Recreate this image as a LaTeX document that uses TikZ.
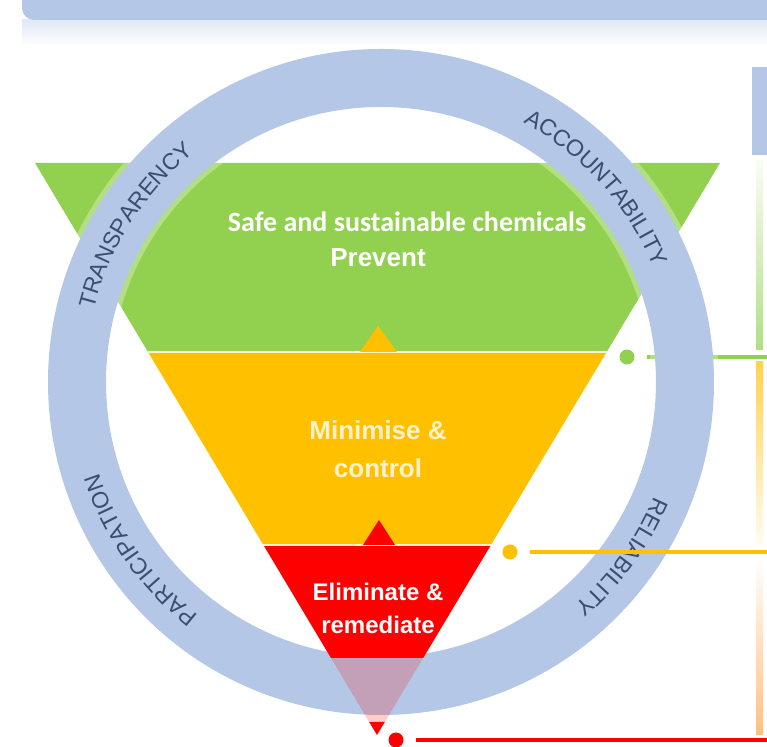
\documentclass[tikz,border=0pt]{standalone}
\usepackage{fontspec}
\setmainfont{Liberation Sans}
\newfontfamily\calibrifont{Carlito}
\usetikzlibrary{calc, decorations.text, positioning}

\definecolor{ringblue}{HTML}{B4C7E7}
\definecolor{ringtext}{HTML}{3A4D6E}
\definecolor{levelgreen}{HTML}{92D050}
\definecolor{levelyellow}{HTML}{FFC000}
\definecolor{levelred}{HTML}{FF0000}
\definecolor{palecream}{HTML}{FFF2CC}

\begin{document}
\begin{tikzpicture}[
    x=0.5pt, y=0.5pt,
    sepline/.style={draw=palecream, line width=1pt},
    levellabel/.style={font=\fontsize{13}{19}\selectfont\bfseries, text=white, align=center},
    marker/.style={circle, inner sep=0pt, minimum size=7.5pt},
    tieline/.style={line width=1.6pt, shorten <=6pt},
    ringlabel/.style={decorate, decoration={text along path, text align=center,
        text color=ringtext, text={|\fontsize{11.5}{13}\selectfont|#1}}}
]
\useasboundingbox (0,0) rectangle (767,747);

% Top bar
\shade[top color=ringblue!40, bottom color=white] (22,727) rectangle (767,700);
\fill[ringblue, rounded corners=6pt] (22,727) rectangle (790,770);

% Pyramid corners
\coordinate (C) at (381,365);
\coordinate (tl) at (35,584);
\coordinate (tr) at (720,584);
\coordinate (apex) at (377,12);
\coordinate (gl) at ($(tl)!0.3304!(apex)$);
\coordinate (gr) at ($(tr)!0.3304!(apex)$);
\coordinate (yl) at ($(tl)!0.6678!(apex)$);
\coordinate (yr) at ($(tr)!0.6678!(apex)$);
\coordinate (rl) at ($(tl)!0.8654!(apex)$);
\coordinate (rr) at ($(tr)!0.8654!(apex)$);
\coordinate (kl) at ($(tl)!0.9773!(apex)$);
\coordinate (kr) at ($(tr)!0.9773!(apex)$);

% Bands
\fill[levelgreen] (tl) -- (tr) -- (gr) -- (gl) -- cycle;
\fill[levelyellow] (gl) -- (gr) -- (yr) -- (yl) -- cycle;

% Green link (under the ring)
\node[marker, fill=levelgreen] (gdot) at (627,390) {};
\coordinate (gend) at (767,390);
\draw[tieline, levelgreen] (gdot) -- (gend);

% Ring
\draw[white, line width=34pt, opacity=0.3] (C) circle[radius=304];
\draw[ringblue, line width=29pt] (C) circle[radius=304];

% Red band and tip
\fill[levelred] (yl) -- (yr) -- (rr) -- (rl) -- cycle;
\fill[levelred, fill opacity=0.2] (rl) -- (rr) -- (apex) -- cycle;
\fill[levelred] (kl) -- (kr) -- (apex) -- cycle;

\draw[sepline] (gl) -- (gr);
\draw[sepline] (yl) -- (yr);
\fill[levelyellow] (360,395) -- (397,395) -- (378,421) -- cycle;
\fill[levelred] (363,202) -- (395,202) -- (379,227) -- cycle;

% Labels
\node[font=\calibrifont\fontsize{14}{17}\selectfont\bfseries, text=white] (safe) at (407,525) {Safe and sustainable chemicals};
\node[levellabel] (prevent) at (378,489) {Prevent};
\node[levellabel, text=palecream] (minimise) at (378,298) {Minimise \&\\control};
\node[levellabel, font=\fontsize{12}{16.5}\selectfont\bfseries] (eliminate) at (378,139) {Eliminate \&\\remediate};

% Ring words
\path[ringlabel={TRANSPARENCY}] ($(C)+(187.5:296)$) arc[start angle=187.5, end angle=107.5, radius=296];
\path[ringlabel={ACCOUNTABILITY}] ($(C)+(82:296)$) arc[start angle=82, end angle=2, radius=296];
\path[ringlabel={RELIABILITY}] ($(C)+(4:296)$) arc[start angle=4, end angle=-76, radius=296];
\path[ringlabel={PARTICIPATION}] ($(C)+(255:296)$) arc[start angle=255, end angle=175, radius=296];

% Right side
\fill[ringblue] (752,592) rectangle (767,680);
\shade[bottom color=levelgreen!70, top color=levelgreen!5] (756,397) rectangle (763,587);
\shade[top color=levelyellow!70, bottom color=levelyellow!5] (756,202) rectangle (763,385);
\shade[bottom color=orange!50, top color=white] (756,12) rectangle (763,189);

\node[marker, fill=levelyellow] (ydot) at (510,195) {};
\coordinate (yend) at (767,195);
\draw[tieline, levelyellow] (ydot) -- (yend);

\node[marker, fill=levelred] (rdot) at (396,7) {};
\coordinate (rend) at (767,7);
\draw[tieline, levelred] (rdot) -- (rend);

\end{tikzpicture}
\end{document}
